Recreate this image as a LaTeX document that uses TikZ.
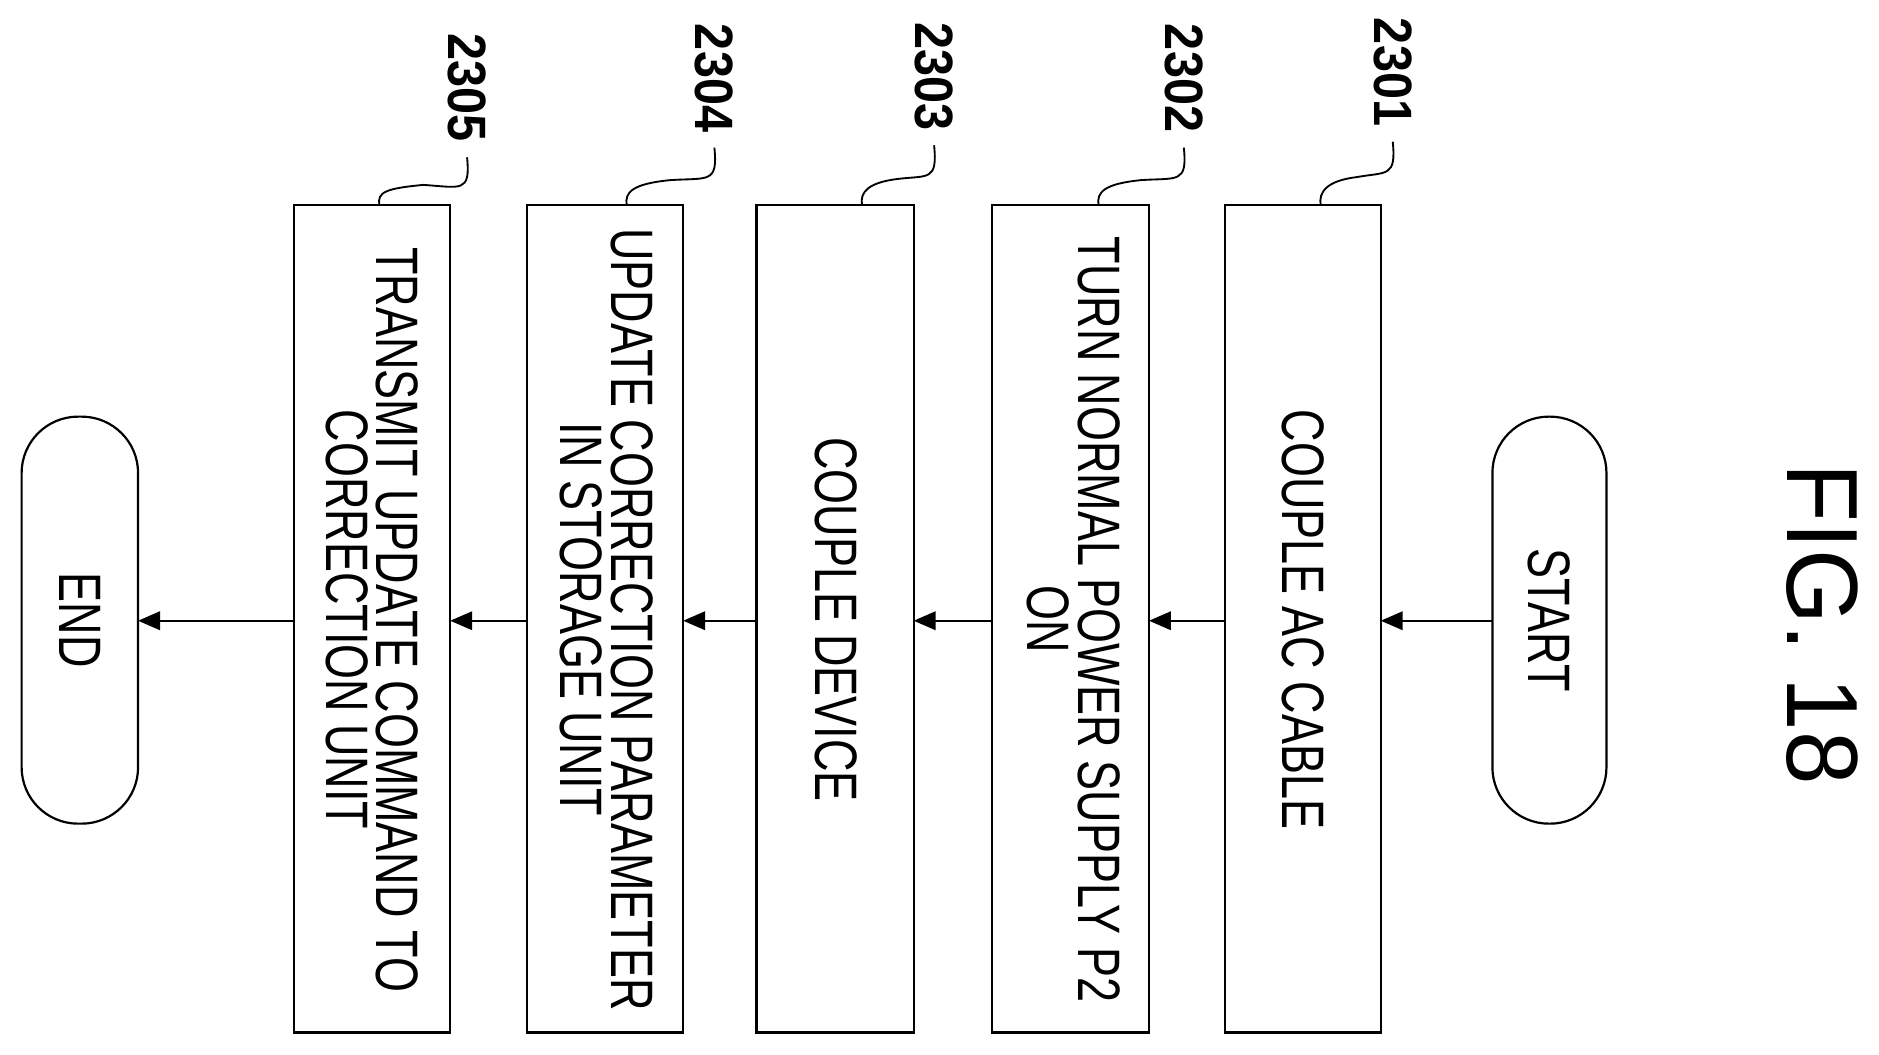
\documentclass[tikz,border=0pt]{standalone}
\usepackage{fontspec}
\setmainfont{Liberation Sans}
\usetikzlibrary{arrows.meta,shapes.misc}
\newcommand{\sq}[1]{\scalebox{0.75}[1]{#1}}
\newcommand{\sqn}[1]{\scalebox{0.9}[1]{#1}}
\begin{document}
\begin{tikzpicture}[x=0.05cm,y=-0.05cm,
  box/.style={draw,line width=2.6pt},
  txt/.style={rotate=-90,align=center,font=\fontsize{71}{60}\selectfont,inner sep=0},
  num/.style={rotate=-90,font=\bfseries\fontsize{64}{64}\selectfont,inner sep=0},
  arr/.style={line width=2.2pt,-{Triangle[length=26pt,width=22pt]}},
  lead/.style={line width=2.2pt}]
\useasboundingbox (0,0) rectangle (1565,878);
% terminals
\draw[box,rounded corners=2.35cm] (1243,347) rectangle (1338,686);
\node[txt] (start) at (1290.5,516.5) {\sq{START}};
\draw[box,rounded corners=2.35cm] (18,347) rectangle (115,686);
\node[txt] (end) at (66.5,516.5) {\sq{END}};
\coordinate (sR) at (1243,517);
\coordinate (eR) at (115,517);
% boxes
\draw[box] (1020,171) rectangle (1150,860);
\draw[box] (826,171) rectangle (957,860);
\draw[box] (630,171) rectangle (761,860);
\draw[box] (439,171) rectangle (569,860);
\draw[box] (245,171) rectangle (375,860);
\node[txt] (b1) at (1085,516) {\sq{COUPLE AC CABLE}};
\node[txt] (b2) at (894,516) {\sq{TURN NORMAL POWER SUPPLY P2}\\\sq{ON}};
\node[txt] (b3) at (696,516) {\sq{COUPLE DEVICE}};
\node[txt] (b4) at (505,516) {\sq{UPDATE CORRECTION PARAMETER}\\\sq{IN STORAGE UNIT}};
\node[txt] (b5) at (310,516) {\sq{TRANSMIT UPDATE COMMAND TO}\\\sq{CORRECTION UNIT}};
\coordinate (b1L) at (1150,517); \coordinate (b1R) at (1020,517);
\coordinate (b2L) at (957,517); \coordinate (b2R) at (826,517);
\coordinate (b3L) at (761,517); \coordinate (b3R) at (630,517);
\coordinate (b4L) at (569,517); \coordinate (b4R) at (439,517);
\coordinate (b5L) at (375,517); \coordinate (b5R) at (245,517);
\draw[arr] (sR) -- (b1L);
\draw[arr] (b1R) -- (b2L);
\draw[arr] (b2R) -- (b3L);
\draw[arr] (b3R) -- (b4L);
\draw[arr] (b4R) -- (b5L);
\draw[arr] (b5R) -- (eR);
% numbers
\node[num] (n1) at (1160,60) {\sqn{2301}};
\node[num] (n2) at (986,65) {\sqn{2302}};
\node[num] (n3) at (778,64) {\sqn{2303}};
\node[num] (n4) at (595,65) {\sqn{2304}};
\node[num] (n5) at (389,73) {\sqn{2305}};
\foreach \n/\x/\y/\bx in {1/1160/118/1100,2/986/123/915,3/778/121/718,4/595/123/522,5/389/131/316}{
  \coordinate (t\n) at (\bx,171);
  \draw[lead] (\x,\y) .. controls (\x+3,\y+30) and (\x-5,\y+25) .. ({(\x+\bx)/2},{(\y+171)/2+3}) .. controls (\bx+5,{(\y+171)/2+6}) and (\bx-2,160) .. (t\n);
}
\node[rotate=-90,font=\fontsize{120}{120}\selectfont,inner sep=0] (fig) at (1518,520) {\scalebox{0.95}[1]{FIG. 18}};
\end{tikzpicture}
\end{document}
